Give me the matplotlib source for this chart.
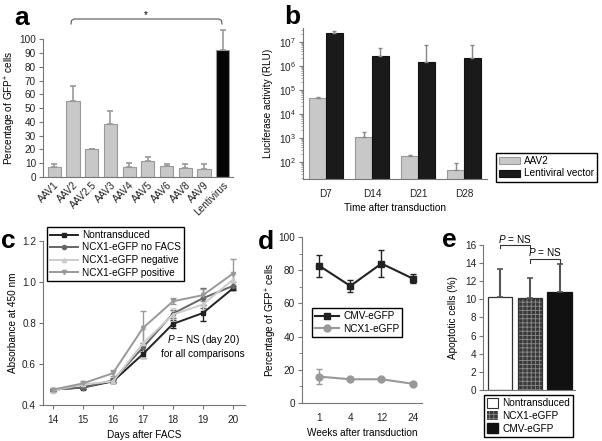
import numpy as np
import matplotlib
matplotlib.use('Agg')
from matplotlib import pyplot as plt
from matplotlib.patches import Patch
from matplotlib.lines import Line2D

plt.rcParams['font.family'] = ['Liberation Sans', 'DejaVu Sans']
plt.rcParams['mathtext.fontset'] = 'custom'
plt.rcParams['mathtext.rm'] = 'Liberation Sans'
plt.rcParams['mathtext.it'] = 'Liberation Sans:italic'
plt.rcParams['font.size'] = 7
plt.rcParams['axes.edgecolor'] = '#777777'
plt.rcParams['xtick.color'] = '#777777'
plt.rcParams['ytick.color'] = '#777777'
plt.rcParams['xtick.labelcolor'] = '#222222'
plt.rcParams['ytick.labelcolor'] = '#222222'
plt.rcParams['hatch.linewidth'] = 0.6

FS = 7.2

# panel a
serotypes = ['AAV1', 'AAV2', 'AAV2.5', 'AAV3', 'AAV4', 'AAV5', 'AAV6', 'AAV8', 'AAV9', 'Lentivirus']
gfp_pct = [7.5, 55.2, 20.0, 38.5, 7.5, 11.8, 8.0, 6.8, 5.6, 92.2]
gfp_err = [2.0, 10.8, 0.5, 9.5, 2.5, 2.5, 1.5, 2.7, 3.9, 14.8]

# panel b
days_b = ['D7', 'D14', 'D21', 'D28']
luc_aav2 = [4.5e4, 1050, 170, 45]
luc_aav2_err = [5e3, 600, 15, 40]
luc_lenti = [2.3e7, 2.6e6, 1.4e6, 2.1e6]
luc_lenti_err = [4e6, 2.6e6, 5.8e6, 5.1e6]

# panel c
days_c = [14, 15, 16, 17, 18, 19, 20]
nontrans = [0.475, 0.485, 0.515, 0.648, 0.795, 0.848, 0.968]
nontrans_err = [0.005, 0.005, 0.01, 0.02, 0.02, 0.04, 0.01]
nofacs = [0.475, 0.485, 0.52, 0.68, 0.845, 0.92, 0.98]
nofacs_err = [0.005, 0.005, 0.01, 0.02, 0.02, 0.05, 0.02]
negative = [0.47, 0.50, 0.515, 0.70, 0.84, 0.89, 1.01]
negative_err = [0.005, 0.01, 0.01, 0.07, 0.03, 0.03, 0.03]
positive = [0.475, 0.505, 0.555, 0.775, 0.905, 0.935, 1.04]
positive_err = [0.005, 0.01, 0.015, 0.085, 0.015, 0.03, 0.07]

# panel d
weeks = ['1', '4', '12', '24']
cmv = [82.7, 70.5, 84.0, 75.0]
cmv_err = [6.5, 3.5, 8.0, 3.0]
ncx1 = [15.9, 14.3, 14.3, 11.6]
ncx1_err = [4.5, 0.0, 0.0, 0.0]

# panel e
groups_e = ['Nontransduced', 'NCX1-eGFP', 'CMV-eGFP']
apopt = [10.3, 10.1, 10.85]
apopt_err = [3.1, 2.2, 3.0]

W, H = 602, 441
fig = plt.figure(figsize=(W / 100, H / 100), dpi=100)


def box(x0, x1, ytop, ybot):
    return [x0 / W, 1 - ybot / H, (x1 - x0) / W, (ybot - ytop) / H]


def clean(ax):
    ax.spines['top'].set_visible(False)
    ax.spines['right'].set_visible(False)
    ax.tick_params(length=3, width=0.8, pad=2, labelsize=FS)


def ylabel_at(ax, s, xpix):
    # xpix = centre of the rotated label in figure pixels
    ax.set_ylabel(s, fontsize=FS)
    x0 = ax.get_position().x0 * W
    wpx = ax.get_position().width * W
    ax.yaxis.set_label_coords((xpix + 5 - x0) / wpx, 0.5)


def panel_label(x, y, s):
    fig.text(x / W, 1 - y / H, s, fontsize=19, fontweight='bold', ha='left', va='center')


leg_kw = dict(frameon=True, fancybox=False, edgecolor='black', framealpha=1,
              borderaxespad=0, bbox_transform=fig.transFigure, fontsize=FS,
              handletextpad=0.4, borderpad=0.3, labelspacing=0.25)

# ---- a ----
ax = fig.add_axes(box(43, 233, 39.3, 177))
clean(ax)
xa = np.arange(len(serotypes))
cols = ['#c8c8c8'] * 9 + ['#050505']
ax.bar(xa, gfp_pct, width=0.7, color=cols, edgecolor='#999999', linewidth=0.8)
ax.errorbar(xa, gfp_pct, yerr=[np.zeros(len(gfp_err)), gfp_err], fmt='none',
            ecolor='#999999', elinewidth=1.2, capsize=2, capthick=1.2, clip_on=False)
ax.set_ylim(0, 100)
ax.set_xlim(-0.6, 9.55)
ax.set_yticks(range(0, 101, 10))
ax.set_xticks(xa)
ax.set_xticklabels(serotypes, rotation=45, ha='right', rotation_mode='anchor')
ax.tick_params(axis='x', length=0)
ylabel_at(ax, 'Percentage of GFP$^{+}$ cells', 13)
# significance bracket
bc = '#555555'
fig.lines.append(Line2D([71 / W, 71.5 / W, 74 / W, 219 / W, 221.5 / W, 222 / W],
                        [1 - 24 / H, 1 - 20.5 / H, 1 - 19 / H, 1 - 19 / H, 1 - 20.5 / H, 1 - 24 / H],
                        transform=fig.transFigure, color=bc, lw=0.8))
fig.text(146 / W, 1 - 15 / H, '*', ha='center', va='center', fontsize=FS)
panel_label(14, 18, 'a')

# ---- b ----
ax = fig.add_axes(box(303, 487, 28, 179))
clean(ax)
xb = np.arange(len(days_b))
bw = 0.36
ax.bar(xb - bw / 2, luc_aav2, width=bw, color='#c8c8c8', edgecolor='#999999', linewidth=0.8, label='AAV2')
ax.bar(xb + bw / 2, luc_lenti, width=bw, color='#1a1a1a', edgecolor='#111111', linewidth=0.8,
       label='Lentiviral vector')
ax.errorbar(xb - bw / 2, luc_aav2, yerr=[np.zeros(4), luc_aav2_err], fmt='none',
            ecolor='#888888', elinewidth=1.0, capsize=1.5)
ax.errorbar(xb + bw / 2, luc_lenti, yerr=[np.zeros(4), luc_lenti_err], fmt='none',
            ecolor='#888888', elinewidth=1.0, capsize=1.5)
ax.set_yscale('log')
ax.set_ylim(19, 3.7e7)
ax.set_xlim(-0.5, 3.5)
ax.set_yticks([1e2, 1e3, 1e4, 1e5, 1e6, 1e7])
ax.set_xticks(xb)
ax.set_xticklabels(days_b)
ax.tick_params(axis='x', length=0, pad=7)
ax.tick_params(axis='y', which='minor', length=1.5, width=0.5)
ax.set_xlabel('Time after transduction', fontsize=FS, labelpad=3)
ylabel_at(ax, 'Luciferase activity (RLU)', 268)
ax.legend(loc='upper left', bbox_to_anchor=(496 / W, 1 - 153 / H), handlelength=2.1, **leg_kw)
panel_label(284, 17, 'b')

# ---- c ----
ax = fig.add_axes(box(43, 245, 240.7, 405))
clean(ax)
series_c = [('Nontransduced', nontrans, nontrans_err, '#222222', 's'),
            ('NCX1-eGFP no FACS', nofacs, nofacs_err, '#666666', 'o'),
            ('NCX1-eGFP negative', negative, negative_err, '#cccccc', '^'),
            ('NCX1-eGFP positive', positive, positive_err, '#999999', 'v')]
hc = []
for name, vals, err, col, mk in series_c:
    ax.errorbar(days_c, vals, yerr=err, color=col, marker=mk, markersize=3, lw=1.4,
                elinewidth=1.0, capsize=2)
    hc.append(Line2D([], [], color=col, marker=mk, markersize=3, lw=1.4))
ax.set_ylim(0.4, 1.2)
ax.set_xlim(13.67, 20.4)
ax.set_yticks([0.4, 0.6, 0.8, 1.0, 1.2])
ax.set_yticklabels(['0.4', '0.6', '0.8', '1.0', '1.2'])
ax.set_xticks(days_c)
ax.tick_params(axis='x', pad=4)
ax.set_xlabel('Days after FACS', fontsize=FS, labelpad=4)
ylabel_at(ax, 'Absorbance at 450 nm', 13)
ax.text(19.0, 0.687, '$P$ = NS (day 20)\nfor all comparisons', ha='center', va='center',
        fontsize=FS, linespacing=1.2)
ax.legend(hc, [s[0] for s in series_c], loc='upper left', bbox_to_anchor=(47 / W, 1 - 227 / H),
          handlelength=2.8, **leg_kw)
panel_label(1, 241, 'c')

# ---- d ----
ax = fig.add_axes(box(302, 422, 237, 403))
clean(ax)
xd = np.arange(len(weeks))
ax.errorbar(xd, cmv, yerr=cmv_err, color='#222222', marker='s', markersize=5, lw=1.5,
            elinewidth=1.0, capsize=2)
ax.errorbar(xd, ncx1, yerr=ncx1_err, color='#999999', marker='o', markersize=5, lw=1.5,
            elinewidth=1.0, capsize=2)
ax.set_ylim(0, 100)
ax.set_xlim(-0.55, 3.3)
ax.set_yticks(range(0, 101, 20))
ax.set_yticks(range(0, 101, 10), minor=True)
ax.tick_params(axis='y', which='minor', length=2)
ax.set_xticks(xd)
ax.set_xticklabels(weeks)
ax.tick_params(axis='x', length=0, pad=7)
ax.set_xlabel('Weeks after transduction', fontsize=FS, labelpad=4)
ylabel_at(ax, 'Percentage of GFP$^{+}$ cells', 274)
hd = [Line2D([], [], color='#222222', marker='s', markersize=5, lw=1.5),
      Line2D([], [], color='#999999', marker='o', markersize=5, lw=1.5)]
ax.legend(hd, ['CMV-eGFP', 'NCX1-eGFP'], loc='upper left', bbox_to_anchor=(312 / W, 1 - 308 / H),
          handlelength=2.4, **leg_kw)
panel_label(258, 242, 'd')

# ---- e ----
ax = fig.add_axes(box(483, 575, 245, 389.8))
clean(ax)
xe = np.arange(len(groups_e))
ew = 0.82
ax.bar(xe[0], apopt[0], width=ew, color='white', edgecolor='#333333', linewidth=0.9)
ax.bar(xe[1], apopt[1], width=ew, color='#3a3a3a', edgecolor='#8a8a8a', hatch='++++', linewidth=0)
ax.bar(xe[1], apopt[1], width=ew, fill=False, edgecolor='#333333', linewidth=0.9)
ax.bar(xe[2], apopt[2], width=ew, color='#111111', edgecolor='#111111', linewidth=0.9)
ax.errorbar(xe, apopt, yerr=[np.zeros(3), apopt_err], fmt='none', ecolor='#555555',
            elinewidth=1.5, capsize=2, capthick=1.2)
ax.set_ylim(0, 16)
ax.set_xlim(-0.57, 2.52)
ax.set_yticks(range(0, 17, 2))
ax.set_xticks([])
ylabel_at(ax, 'Apoptotic cells (%)', 453)
for x0, x1, yy, ty in [(0, 1, 16.0, 16.7), (1, 2, 14.4, 15.2)]:
    ax.plot([x0, x0, x1, x1], [yy - 0.35, yy, yy, yy - 0.35], color='#333333', lw=0.8, clip_on=False)
    ax.text((x0 + x1) / 2, ty, '$P$ = NS', ha='center', va='center', fontsize=FS)
handles_e = [Patch(facecolor='white', edgecolor='#333333', lw=0.8),
             Patch(facecolor='#3a3a3a', edgecolor='#8a8a8a', hatch='++++', lw=0),
             Patch(facecolor='#111111', edgecolor='#111111')]
ax.legend(handles_e, groups_e, loc='upper left', bbox_to_anchor=(484 / W, 1 - 395 / H),
          handlelength=1.1, handleheight=1.1, **leg_kw)
panel_label(442, 240, 'e')

plt.savefig('out.png', dpi=100)
